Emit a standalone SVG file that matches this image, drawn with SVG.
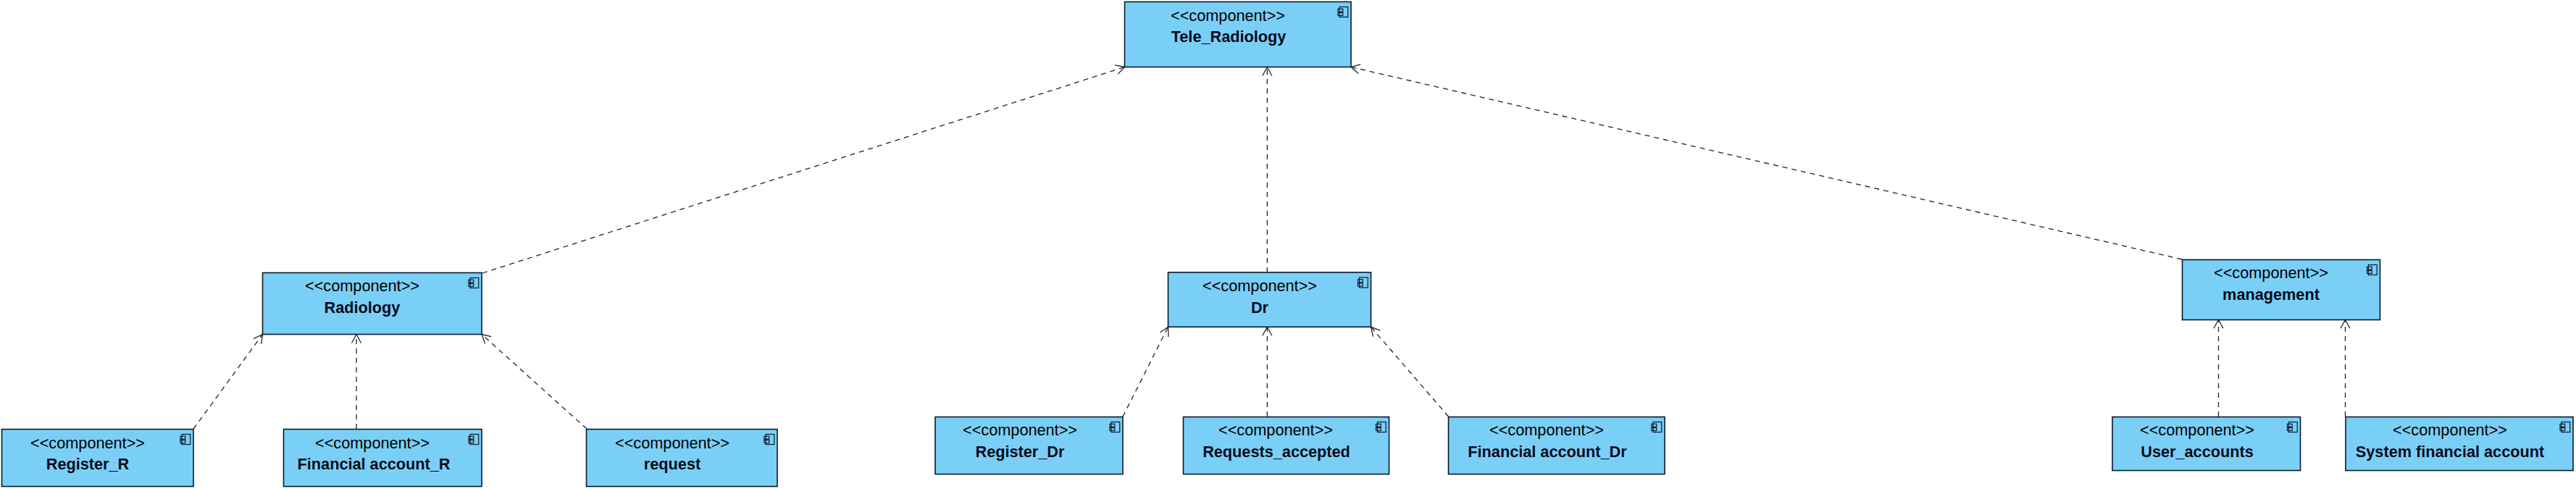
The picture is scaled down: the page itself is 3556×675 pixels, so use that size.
<svg xmlns="http://www.w3.org/2000/svg" width="3556" height="675" viewBox="0 0 3556 675">
<style>
.b{fill:#7acff7;stroke:#0a1a2a;stroke-width:1.6}
.i{fill:none;stroke:#0a1a2a;stroke-width:1.2}
text{font-family:"Liberation Sans",Arial,sans-serif;font-size:21.7px;fill:#000;text-anchor:middle}
.n{font-weight:bold;fill:#050a1a}
.c line{stroke:#222;stroke-width:1.3;stroke-dasharray:7 6;fill:none;marker-end:url(#a)}
</style>
<defs>
<marker id="a" markerUnits="userSpaceOnUse" markerWidth="16" markerHeight="16" refX="13" refY="8" orient="auto"><path d="M1,1.5 13,8 1,14.5" fill="none" stroke="#222" stroke-width="1.3"/></marker>
<g id="ic"><rect class="i" x="-16" y="7" width="11.7" height="14"/><rect class="i" x="-18" y="9.7" width="6.7" height="4"/><rect class="i" x="-18" y="15" width="6.7" height="4"/></g>
</defs>
<g id="connectors" class="c">
<line x1="666" y1="377" x2="1552.5" y2="92.5"/>
<line x1="1749.3" y1="376" x2="1749.3" y2="92.5"/>
<line x1="3012" y1="358" x2="1865" y2="92.5"/>
<line x1="267" y1="592" x2="362.5" y2="461.5"/>
<line x1="492" y1="592" x2="492" y2="461.5"/>
<line x1="810" y1="592" x2="665" y2="461.5"/>
<line x1="1550" y1="575" x2="1612.5" y2="451.3"/>
<line x1="1749.3" y1="575" x2="1749.3" y2="451.3"/>
<line x1="1999.5" y1="575" x2="1892.5" y2="451.3"/>
<line x1="3062.5" y1="575" x2="3062.5" y2="441.3"/>
<line x1="3237.5" y1="575" x2="3237.5" y2="441.3"/>
</g>
<g id="tele"><rect class="b" x="1552.5" y="2.5" width="312.5" height="90"/><use href="#ic" x="1865" y="2.5"/><text x="1695" y="29">&lt;&lt;component&gt;&gt;</text><text class="n" x="1696" y="58">Tele_Radiology</text></g>
<g id="radiology"><rect class="b" x="362.5" y="376.5" width="302.5" height="85"/><use href="#ic" x="665" y="376.5"/><text x="500" y="402">&lt;&lt;component&gt;&gt;</text><text class="n" x="500" y="431.5">Radiology</text></g>
<g id="dr"><rect class="b" x="1612.5" y="376" width="280" height="75.3"/><use href="#ic" x="1892.5" y="376"/><text x="1739" y="402">&lt;&lt;component&gt;&gt;</text><text class="n" x="1739" y="431.5">Dr</text></g>
<g id="management"><rect class="b" x="3012.5" y="358.5" width="273" height="83"/><use href="#ic" x="3285.5" y="358.5"/><text x="3135" y="384">&lt;&lt;component&gt;&gt;</text><text class="n" x="3135" y="414">management</text></g>
<g id="register_r"><rect class="b" x="2.5" y="592.5" width="264.5" height="79"/><use href="#ic" x="267" y="592.5"/><text x="121" y="619">&lt;&lt;component&gt;&gt;</text><text class="n" x="121" y="648">Register_R</text></g>
<g id="financial_r"><rect class="b" x="391.5" y="592.5" width="273.5" height="79"/><use href="#ic" x="665" y="592.5"/><text x="514" y="619">&lt;&lt;component&gt;&gt;</text><text class="n" x="516" y="648">Financial account_R</text></g>
<g id="request"><rect class="b" x="809.5" y="592.5" width="263.5" height="79"/><use href="#ic" x="1073" y="592.5"/><text x="928" y="619">&lt;&lt;component&gt;&gt;</text><text class="n" x="928" y="648">request</text></g>
<g id="register_dr"><rect class="b" x="1291" y="575.5" width="259" height="79"/><use href="#ic" x="1550" y="575.5"/><text x="1408" y="601">&lt;&lt;component&gt;&gt;</text><text class="n" x="1408" y="631">Register_Dr</text></g>
<g id="requests_accepted"><rect class="b" x="1633.5" y="575.5" width="284" height="79"/><use href="#ic" x="1917.5" y="575.5"/><text x="1761" y="601">&lt;&lt;component&gt;&gt;</text><text class="n" x="1762" y="631">Requests_accepted</text></g>
<g id="financial_dr"><rect class="b" x="1999.5" y="575.5" width="298.5" height="79"/><use href="#ic" x="2298" y="575.5"/><text x="2135" y="601">&lt;&lt;component&gt;&gt;</text><text class="n" x="2136" y="631">Financial account_Dr</text></g>
<g id="user_accounts"><rect class="b" x="2916" y="575.5" width="259.5" height="74"/><use href="#ic" x="3175.5" y="575.5"/><text x="3033" y="601">&lt;&lt;component&gt;&gt;</text><text class="n" x="3033" y="631">User_accounts</text></g>
<g id="system_financial"><rect class="b" x="3238" y="575.5" width="314" height="74"/><use href="#ic" x="3552" y="575.5"/><text x="3382" y="601">&lt;&lt;component&gt;&gt;</text><text class="n" x="3382" y="631">System financial account</text></g>
</svg>
